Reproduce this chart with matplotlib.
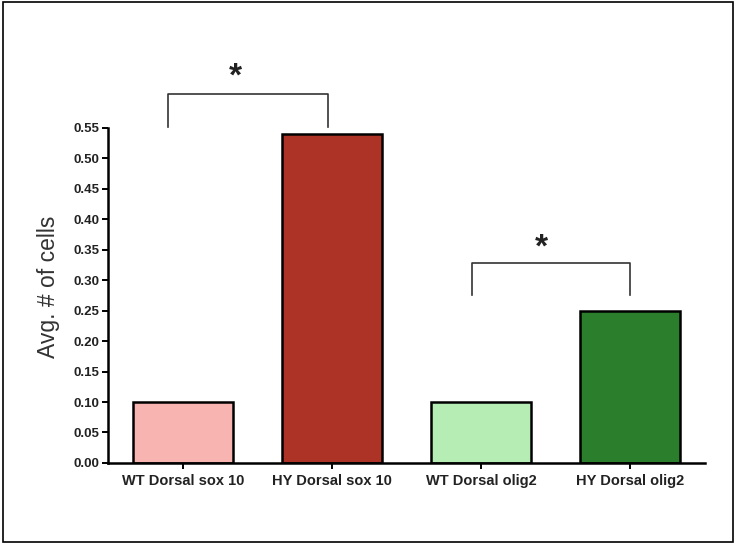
import matplotlib
matplotlib.use("Agg")
import matplotlib.pyplot as plt
from matplotlib.patches import Rectangle

plt.rcParams['font.family'] = ['Liberation Sans', 'DejaVu Sans']

categories = ['WT Dorsal sox 10', 'HY Dorsal sox 10', 'WT Dorsal olig2', 'HY Dorsal olig2']
values = [0.10, 0.54, 0.10, 0.25]
colors = ['#f7b4b0', '#ad3327', '#b6edb4', '#2a7e2c']
yticks = [0.00, 0.05, 0.10, 0.15, 0.20, 0.25, 0.30, 0.35, 0.40, 0.45, 0.50, 0.55]

# significance brackets: (x left, x right, top, bottom of arms, star x, star y)
brackets = [(-0.1, 0.97, 0.606, 0.552, 0.35, 0.634),
            (1.94, 3.0, 0.328, 0.276, 2.40, 0.353)]

fig = plt.figure(figsize=(7.36, 5.44), dpi=100)
fig.patches.append(Rectangle((0.004, 0.004), 0.992, 0.992, transform=fig.transFigure,
                             fill=False, edgecolor='black', linewidth=1.2))
ax = fig.add_axes([0.147, 0.149, 0.811, 0.616])

x = range(len(categories))
ax.bar(x, values, width=0.67, color=colors, edgecolor='black', linewidth=1.8)

ax.set_xlim(-0.5, 3.5)
ax.set_ylim(0, 0.55)
ax.set_yticks(yticks)
ax.set_yticklabels([f'{t:.2f}' for t in yticks], fontsize=9.5, fontweight='bold', color='#222222')
ax.set_xticks(list(x))
ax.set_xticklabels(categories, fontsize=10.5, fontweight='bold', color='#222222')
ax.tick_params(axis='both', direction='out', length=4, width=1.4, pad=2)
ax.tick_params(axis='x', pad=4)
ax.set_ylabel('Avg. # of cells', fontsize=16.5, color='#333333')
ax.yaxis.set_label_coords(-0.080, 0.525)

for side in ['top', 'right']:
    ax.spines[side].set_visible(False)
for side in ['left', 'bottom']:
    ax.spines[side].set_linewidth(1.8)

for xl, xr, top, bot, sx, sy in brackets:
    ax.plot([xl, xl, xr, xr], [bot, top, top, bot], color='#333333', linewidth=1.2, clip_on=False)
    ax.text(sx, sy, '*', ha='center', va='center', fontsize=24, fontweight='bold',
            color='#222222', clip_on=False)

fig.savefig('out.png', dpi=100)
